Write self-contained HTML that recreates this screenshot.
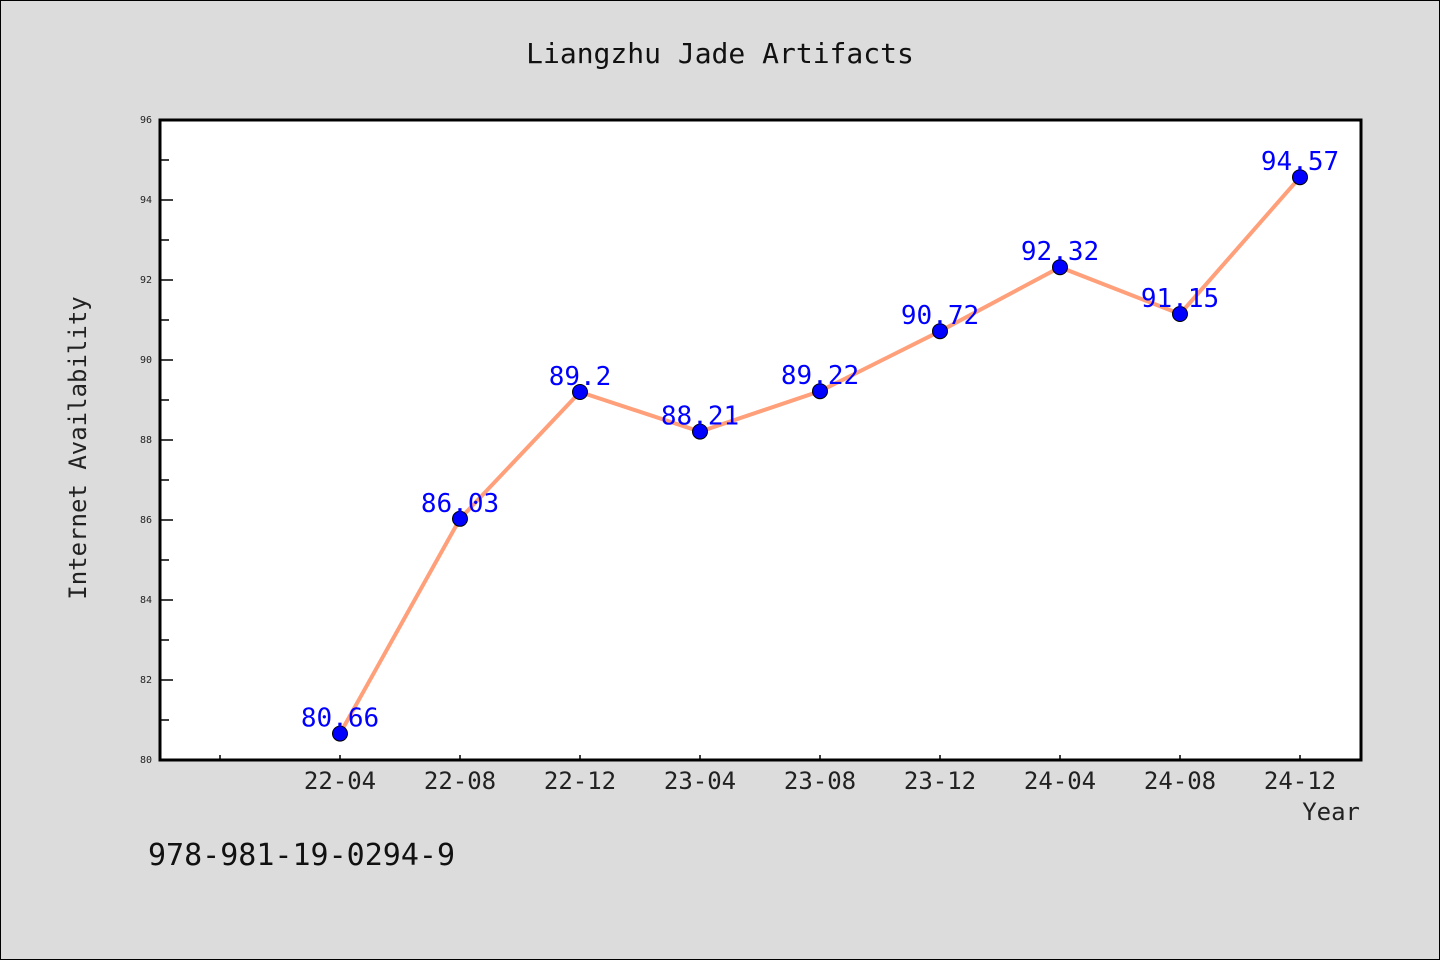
<!DOCTYPE html>
<html><head><meta charset="utf-8"><style>
body{margin:0;background:#dcdcdc;}
svg{display:block;font-family:"DejaVu Sans Mono","Liberation Mono","WenQuanYi Zen Hei",monospace;}
</style></head><body>
<svg id="chart" width="1440" height="960">
<rect x="0.5" y="0.5" width="1439" height="959" fill="#dcdcdc" stroke="#000"/>
<text x="720" y="63" text-anchor="middle" font-size="28" fill="#111">Liangzhu Jade Artifacts</text>
<rect x="160" y="120" width="1201" height="640" fill="#fff"/>
<g id="axes"></g>
<g id="marks"></g>
<rect x="160" y="120" width="1201" height="640" fill="none" stroke="#000" stroke-width="3"/>
<text x="86" y="448" transform="rotate(-90 86 448)" text-anchor="middle" font-size="24" fill="#222">Internet Availability</text>
<text x="1360" y="820" text-anchor="end" font-size="24" fill="#222">Year</text>
<text x="148" y="865" font-size="30" fill="#111">978-981-19-0294-9</text>
</svg>
<script>
const categories=["22-04","22-08","22-12","23-04","23-08","23-12","24-04","24-08","24-12"];
const values=[80.66,86.03,89.2,88.21,89.22,90.72,92.32,91.15,94.57];
const labels=["80.66","86.03","89.2","88.21","89.22","90.72","92.32","91.15","94.57"];
const yTicks=[80,82,84,86,88,90,92,94,96];
const NS="http://www.w3.org/2000/svg";
function x(i){return 340+i*120;}
function y(v){return 760-(v-80)*40;}
function mk(t,a,p){const e=document.createElementNS(NS,t);for(const k in a)e.setAttribute(k,a[k]);p.appendChild(e);return e;}
const axes=document.getElementById('axes'),marks=document.getElementById('marks');
yTicks.forEach(v=>{
  const l=mk('line',{x1:160,x2:173,y1:y(v),y2:y(v),stroke:'#000','stroke-width':1.5},axes);
  
  
  const t=mk('text',{x:152,y:y(v)+3,'text-anchor':'end','font-size':10,fill:'#222'},axes);
  t.textContent=v;
  
  
  if(v<96){const m=mk('line',{x1:160,x2:169,y1:y(v+1),y2:y(v+1),stroke:'#000','stroke-width':1.5},axes);
  
  }
});
const t0=mk('line',{x1:220,x2:220,y1:755,y2:760,stroke:'#000','stroke-width':1.5},axes);


categories.forEach((c,i)=>{
  const l=mk('line',{x1:x(i),x2:x(i),y1:755,y2:760,stroke:'#000','stroke-width':1.5},axes);
  
  
  const t=mk('text',{x:x(i),y:789,'text-anchor':'middle','font-size':24,fill:'#222'},axes);
  t.textContent=c;
  
  
});
const pl=mk('polyline',{points:values.map((v,i)=>x(i)+','+y(v)).join(' '),fill:'none',stroke:'#ffa07a','stroke-width':4},marks);


values.forEach((v,i)=>{
  const c=mk('circle',{cx:x(i),cy:y(v),r:7.5,fill:'#0000ff',stroke:'#000','stroke-width':1},marks);
  
  
  const t=mk('text',{x:x(i),y:y(v)-7,'text-anchor':'middle','font-size':26,fill:'#0000ff'},marks);
  t.textContent=labels[i];
  
  
});
</script>
</body></html>
